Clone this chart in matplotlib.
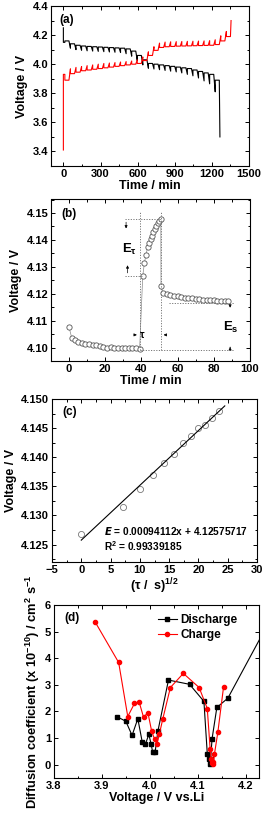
import numpy as np
import matplotlib
matplotlib.use('Agg')
import matplotlib.pyplot as plt
from matplotlib.ticker import MultipleLocator

plt.rcParams['font.family'] = ['Liberation Sans', 'DejaVu Sans']
plt.rcParams['font.weight'] = 'bold'
plt.rcParams['axes.labelweight'] = 'bold'
plt.rcParams['mathtext.default'] = 'regular'

# ---------------- data ----------------
# (a) GITT curves, one value per pulse (voltage at end of pulse, relaxed voltage after rest)
cycle_min = 45
pulse_min = 12
dis_start = 4.25
dis_pulse = [4.15, 4.11, 4.10, 4.095, 4.092, 4.09, 4.088, 4.086, 4.084, 4.082,
             4.08, 4.072, 4.055, 4.025, 3.995, 3.972, 3.967, 3.962, 3.957, 3.952,
             3.947, 3.94, 3.93, 3.92, 3.905, 3.885, 3.865, 3.81]
dis_rest = [4.16, 4.14, 4.13, 4.125, 4.122, 4.12, 4.118, 4.116, 4.114, 4.112,
            4.11, 4.105, 4.09, 4.06, 4.03, 4.005, 4.0, 3.995, 3.99, 3.985,
            3.98, 3.975, 3.97, 3.96, 3.95, 3.94, 3.93, 3.89]
dis_end = 3.50
chg_start = 3.41
chg_pulse = [3.93, 3.968, 3.978, 3.984, 3.99, 3.995, 4.0, 4.005, 4.008, 4.011,
             4.015, 4.018, 4.022, 4.03, 4.05, 4.085, 4.12, 4.145, 4.152, 4.154,
             4.155, 4.156, 4.157, 4.158, 4.159, 4.16, 4.162, 4.168, 4.195, 4.225]
chg_rest = [3.89, 3.935, 3.945, 3.955, 3.96, 3.965, 3.97, 3.975, 3.98, 3.985,
            3.99, 3.995, 4.0, 4.005, 4.025, 4.06, 4.095, 4.115, 4.12, 4.122,
            4.124, 4.125, 4.126, 4.127, 4.128, 4.129, 4.13, 4.135, 4.16, 4.19]
chg_end = 4.30

# (b) single titration step
t_b = [0, 1.5, 3, 5, 7, 9, 11, 13, 15, 17, 19, 21, 23, 25, 27, 29, 31, 33, 35, 37, 39,
       40.7, 41.6, 42.5, 43.4, 44.2, 45.0, 45.8, 46.6, 47.4, 48.2, 49.0, 49.8, 50.7,
       50.8, 52, 54, 56, 58, 60, 62, 64, 66, 68, 70, 72, 74, 76, 78, 80, 82, 84, 86, 88]
v_b = [4.1075, 4.1035, 4.1028, 4.1022, 4.1018, 4.1015, 4.1012, 4.1008, 4.1008, 4.1005,
       4.1002, 4.1000, 4.1003, 4.1000, 4.0998, 4.1000, 4.0997, 4.0998, 4.0998, 4.0997, 4.0995,
       4.1265, 4.1313, 4.1345, 4.1372, 4.1390, 4.1405, 4.1416, 4.1428, 4.1440, 4.1452,
       4.1462, 4.1470, 4.1476,
       4.1227, 4.1203, 4.1200, 4.1197, 4.1193, 4.1190, 4.1188, 4.1185, 4.1185, 4.1183,
       4.1180, 4.1180, 4.1178, 4.1177, 4.1175, 4.1175, 4.1174, 4.1174, 4.1174, 4.1173]

# (c) voltage vs sqrt(time)
sqrt_t = [0, 7.1, 10.0, 12.2, 14.1, 15.8, 17.3, 18.7, 20.0, 21.2, 22.4, 23.5]
v_c = [4.1268, 4.1314, 4.1345, 4.1370, 4.1390, 4.1406, 4.1425, 4.1437, 4.1450,
       4.1456, 4.1468, 4.1480]
fit_slope = 0.00094112
fit_icpt = 4.12575717
fit_x = [0, 24.5]

# (d) diffusion coefficients
v_dis = [3.931, 3.950, 3.963, 3.975, 3.984, 3.991, 3.998, 4.003, 4.006, 4.011, 4.017,
         4.039, 4.083, 4.113, 4.120, 4.123, 4.125, 4.127, 4.130, 4.140, 4.163, 4.235]
d_dis = [1.81, 1.63, 1.10, 1.73, 0.87, 0.78, 1.14, 0.76, 0.46, 0.46, 1.27,
         3.18, 3.02, 2.38, 0.42, 0.20, 0.02, 0.22, 0.97, 2.15, 2.50, 4.9]
v_chg = [3.886, 3.935, 3.954, 3.968, 3.978, 3.987, 3.996, 4.004, 4.010, 4.015, 4.020,
         4.027, 4.043, 4.070, 4.103, 4.120, 4.126, 4.128, 4.130, 4.131, 4.133, 4.135,
         4.142, 4.154]
d_chg = [5.36, 3.84, 1.81, 2.30, 2.34, 1.78, 1.96, 1.25, 0.96, 0.78, 1.15,
         1.71, 2.90, 3.43, 2.90, 2.11, 0.59, 0.21, 0.05, 0.03, 0.11, 0.40,
         1.21, 2.92]


def gitt_curve(v0, pulse_end, rest, v_last):
    t, v = [0], [v0]
    prev = v0
    for i, (pe, r) in enumerate(zip(pulse_end, rest)):
        t0 = i * cycle_min
        t += [t0, t0 + pulse_min, t0 + pulse_min, t0 + cycle_min]
        v += [prev if i else pe, pe, r, r]
        prev = r
    t0 = len(rest) * cycle_min
    t += [t0, t0 + 5]
    v += [prev, v_last]
    return t, v


def style(ax):
    ax.tick_params(which='both', direction='in', top=True, right=True,
                   labelsize=8, width=0.7, pad=2)
    ax.tick_params(which='major', length=3)
    ax.tick_params(which='minor', length=1.8)
    for s in ax.spines.values():
        s.set_linewidth(0.8)


W, H = 263, 813
fig = plt.figure(figsize=(W / 100, H / 100), dpi=100)


def add_ax(l, r, t, b):
    return fig.add_axes([l / W, 1 - b / H, (r - l) / W, (b - t) / H])


# ---- (a)
ax = add_ax(51, 249, 6, 166)
td, vd = gitt_curve(dis_start, dis_pulse, dis_rest, dis_end)
tc, vc = gitt_curve(chg_start, chg_pulse, chg_rest, chg_end)
ax.plot(td, vd, color='black', lw=0.8)
ax.plot(tc, vc, color='red', lw=0.8)
ax.set_xlim(-100, 1500)
ax.set_ylim(3.3, 4.4)
ax.xaxis.set_major_locator(MultipleLocator(300))
ax.xaxis.set_minor_locator(MultipleLocator(150))
ax.yaxis.set_major_locator(MultipleLocator(0.2))
ax.yaxis.set_minor_locator(MultipleLocator(0.1))
ax.set_xlabel('Time / min', fontsize=9, labelpad=1)
ax.set_ylabel('Voltage / V', fontsize=9, labelpad=3)
ax.text(0.04, 0.95, '(a)', transform=ax.transAxes, fontsize=8.5, va='top')
style(ax)

# ---- (b)
ax = add_ax(51, 250, 199.5, 361)
ax.plot(t_b, v_b, color='#888888', lw=0.5, marker='o', ms=3.8, mfc='white',
        mec='#555555', mew=0.6)
dot = dict(color='#777777', lw=0.7, ls=(0, (1.2, 1.5)))
ax.plot([31, 50.7], [4.1476, 4.1476], **dot)
ax.plot([31, 40.7], [4.1265, 4.1265], **dot)
ax.plot([39, 39], [4.0991, 4.1508], **dot)
ax.plot([50.7, 50.7], [4.0991, 4.1508], **dot)
ax.plot([39, 91], [4.0991, 4.0991], **dot)
ax.plot([55, 91], [4.1167, 4.1167], **dot)
arr = dict(arrowstyle='-|>', color='black', lw=0.5, mutation_scale=4)
ax.annotate('', xy=(31.5, 4.1432), xytext=(31.5, 4.1476), arrowprops=arr)
ax.annotate('', xy=(32.3, 4.1316), xytext=(32.3, 4.1267), arrowprops=arr)
ax.annotate('', xy=(39, 4.1047), xytext=(34.5, 4.1047), arrowprops=arr)
ax.annotate('', xy=(50.7, 4.1047), xytext=(55.5, 4.1047), arrowprops=arr)
ax.annotate('', xy=(89, 4.1148), xytext=(89, 4.1167), arrowprops=arr)
ax.annotate('', xy=(89, 4.1012), xytext=(89, 4.0991), arrowprops=arr)
ax.text(33.2, 4.1365, r'E$_\tau$', fontsize=9.5, ha='center', va='center')
ax.text(40.5, 4.1045, r'$\tau$', fontsize=7.5, ha='center', va='center')
ax.text(89.5, 4.1075, r'E$_s$', fontsize=9.5, ha='center', va='center')
ax.set_xlim(-10, 100)
ax.set_ylim(4.095, 4.155)
ax.xaxis.set_major_locator(MultipleLocator(20))
ax.xaxis.set_minor_locator(MultipleLocator(10))
ax.yaxis.set_major_locator(MultipleLocator(0.01))
ax.yaxis.set_minor_locator(MultipleLocator(0.005))
ax.set_xlabel('Time / min', fontsize=9, labelpad=1)
ax.set_ylabel('Voltage / V', fontsize=9, labelpad=3)
ax.text(0.05, 0.95, '(b)', transform=ax.transAxes, fontsize=8.5, va='top')
style(ax)

# ---- (c)
ax = add_ax(52, 257, 399, 562)
ax.plot(sqrt_t, v_c, ls='none', marker='o', ms=4.4, mfc='none', mec='#777777', mew=0.6)
fx = np.array(fit_x)
ax.plot(fx, fit_slope * fx + fit_icpt, color='black', lw=0.8)
ax.text(3.8, 4.1274, r'$\it{E}$ = 0.00094112x + 4.12575717', fontsize=7.3, va='center')
ax.text(3.8, 4.1247, r'R$^2$ = 0.99339185', fontsize=7.3, va='center')
ax.set_xlim(-5, 30)
ax.set_ylim(4.122, 4.150)
ax.xaxis.set_major_locator(MultipleLocator(5))
ax.xaxis.set_minor_locator(MultipleLocator(2.5))
ax.yaxis.set_major_locator(MultipleLocator(0.005))
ax.yaxis.set_minor_locator(MultipleLocator(0.0025))
ax.yaxis.set_major_formatter(plt.FormatStrFormatter('%.3f'))
ax.set_xlabel(r'($\tau$ /  s)$^{1/2}$', fontsize=9, labelpad=1)
ax.set_ylabel('Voltage / V', fontsize=9, labelpad=3)
ax.text(0.05, 0.96, '(c)', transform=ax.transAxes, fontsize=8.5, va='top')
style(ax)

# ---- (d)
ax = add_ax(54, 259, 605, 778)
ax.plot(v_dis, d_dis, color='black', lw=0.8, marker='s', ms=2.8, label='Discharge')
ax.plot(v_chg, d_chg, color='red', lw=0.8, marker='o', ms=3.0, label='Charge')
ax.set_xlim(3.8, 4.228)
ax.set_ylim(-0.5, 6)
ax.xaxis.set_major_locator(MultipleLocator(0.1))
ax.xaxis.set_minor_locator(MultipleLocator(0.05))
ax.yaxis.set_major_locator(MultipleLocator(1))
ax.set_xlabel('Voltage / V vs.Li', fontsize=9, labelpad=1)
ax.set_ylabel(r'Diffusion coefficient (x 10$^{-10}$) / cm$^2$ s$^{-1}$', fontsize=9.3, labelpad=2)
ax.text(0.05, 0.96, '(d)', transform=ax.transAxes, fontsize=8.5, va='top')
ax.legend(loc='upper right', bbox_to_anchor=(0.93, 0.99), frameon=False, fontsize=8.5,
          handlelength=1.6, handletextpad=0.3, labelspacing=0.3, borderaxespad=0.2)
style(ax)

fig.savefig('out.png', dpi=100)
